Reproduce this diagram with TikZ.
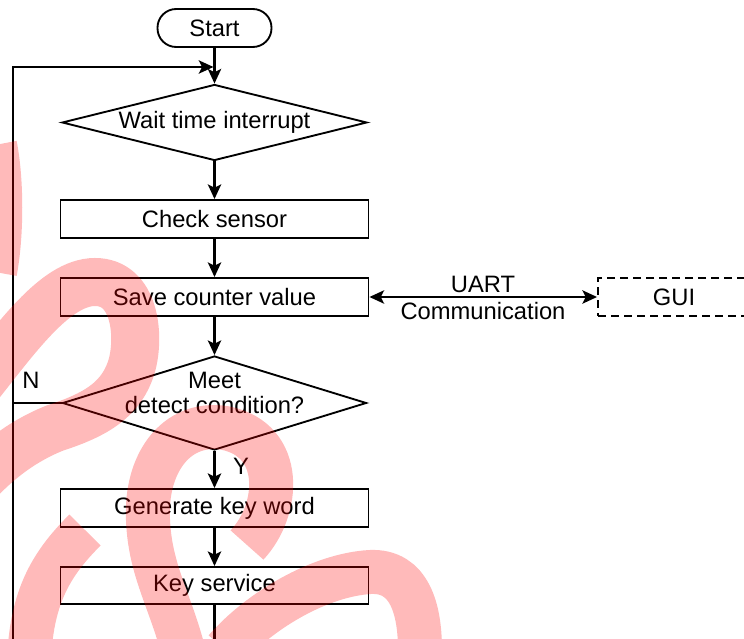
\documentclass[tikz,border=0pt]{standalone}
\usepackage{fontspec}
\setmainfont{Liberation Sans}
\usetikzlibrary{arrows.meta,shapes.geometric}
\begin{document}
\begin{tikzpicture}[x=0.75pt,y=-0.75pt,
  font=\fontsize{17.8pt}{18.75pt}\selectfont,
  procbox/.style={draw, line width=1.4pt, rectangle, minimum width=231pt, minimum height=28.5pt, inner sep=0pt},
  decision/.style={draw, line width=1.4pt, diamond, inner sep=0pt},
  flow/.style={line width=1.7pt, -{Stealth[length=11pt,width=10pt,inset=2.5pt]}},
  biflow/.style={line width=1.7pt, {Stealth[length=11pt,width=10pt,inset=2.5pt]}-{Stealth[length=11pt,width=10pt,inset=2.5pt]}},
  plain/.style={line width=1.7pt},
  txt/.style={inner sep=0pt},
  wm/.style={draw=red, draw opacity=0.27, line width=33pt, line cap=butt}
]
\useasboundingbox (0,0) rectangle (744,639);
\clip (0,0) rectangle (744,639);

% nodes
\node[draw, line width=1.4pt, rounded corners=14pt, minimum width=85.5pt, minimum height=28.5pt, inner sep=0pt] (start) at (214.5,28) {Start};
\node[decision, minimum width=228.75pt, minimum height=57pt] (d1) at (214.5,122.5) {};
\node[txt] (d1t) at (d1.center) {Wait time interrupt};
\node[procbox] (cs) at (214.5,219) {Check sensor};
\node[procbox] (sv) at (214.5,297) {Save counter value};
\node[decision, minimum width=228pt, minimum height=70.5pt] (d2) at (214.5,403) {};
\node[txt, align=center] (d2t) at (214.5,393) {Meet\\detect condition?};
\node[procbox] (gk) at (214.5,508) {Generate key word};
\node[procbox, minimum height=27.75pt] (ks) at (214.5,585.5) {Key service};
\node[draw, dashed, dash pattern=on 6pt off 3.75pt, line width=1.4pt, minimum width=114pt, minimum height=28.5pt, inner sep=0pt] (gui) at (674,297) {GUI};

\node[txt] (uart) at (483,284) {UART};
\node[txt] (comm) at (483,311) {Communication};
\node[txt] (nlab) at (31,380) {N};
\node[txt] (ylab) at (241,466) {Y};

% coordinates
\coordinate (jn) at (214.5,67);
\coordinate (lt) at (13,67);
\coordinate (lb) at (13,660);
\coordinate (nl) at (13,403);
\coordinate (kb) at (214.5,660);

% connectors
\draw[flow] (start) -- (d1);
\draw[flow, shorten >=0.8pt] (lb) -- (lt) -- (jn);
\draw[flow] (d1) -- (cs);
\draw[flow] (cs) -- (sv);
\draw[flow] (sv) -- (d2);
\draw[flow] (d2) -- (gk);
\draw[flow] (gk) -- (ks);
\draw[plain] (ks) -- (kb);
\draw[plain] (d2.west) -- (nl);
\draw[biflow] (sv.east) -- (gui.west);

% watermark
\draw[wm] (-5,145) .. controls (2,180) and (2,235) .. (-5,272);
\draw[wm, line width=36pt] (-25,390) .. controls (15,340) and (55,282) .. (95,282)
          .. controls (135,282) and (140,335) .. (132,365)
          .. controls (122,400) and (95,415) .. (55,428)
          .. controls (25,440) and (0,458) .. (-25,485);
\draw[wm] (85,530) .. controls (55,560) and (35,590) .. (30,645);
\draw[wm] (247,545) .. controls (280,510) and (285,440) .. (225,428)
          .. controls (175,420) and (145,465) .. (148,520)
          .. controls (150,570) and (170,600) .. (183,650);
\draw[wm] (225,650) .. controls (260,610) and (320,575) .. (370,572)
          .. controls (410,570) and (420,610) .. (420,650);
\end{tikzpicture}
\end{document}
